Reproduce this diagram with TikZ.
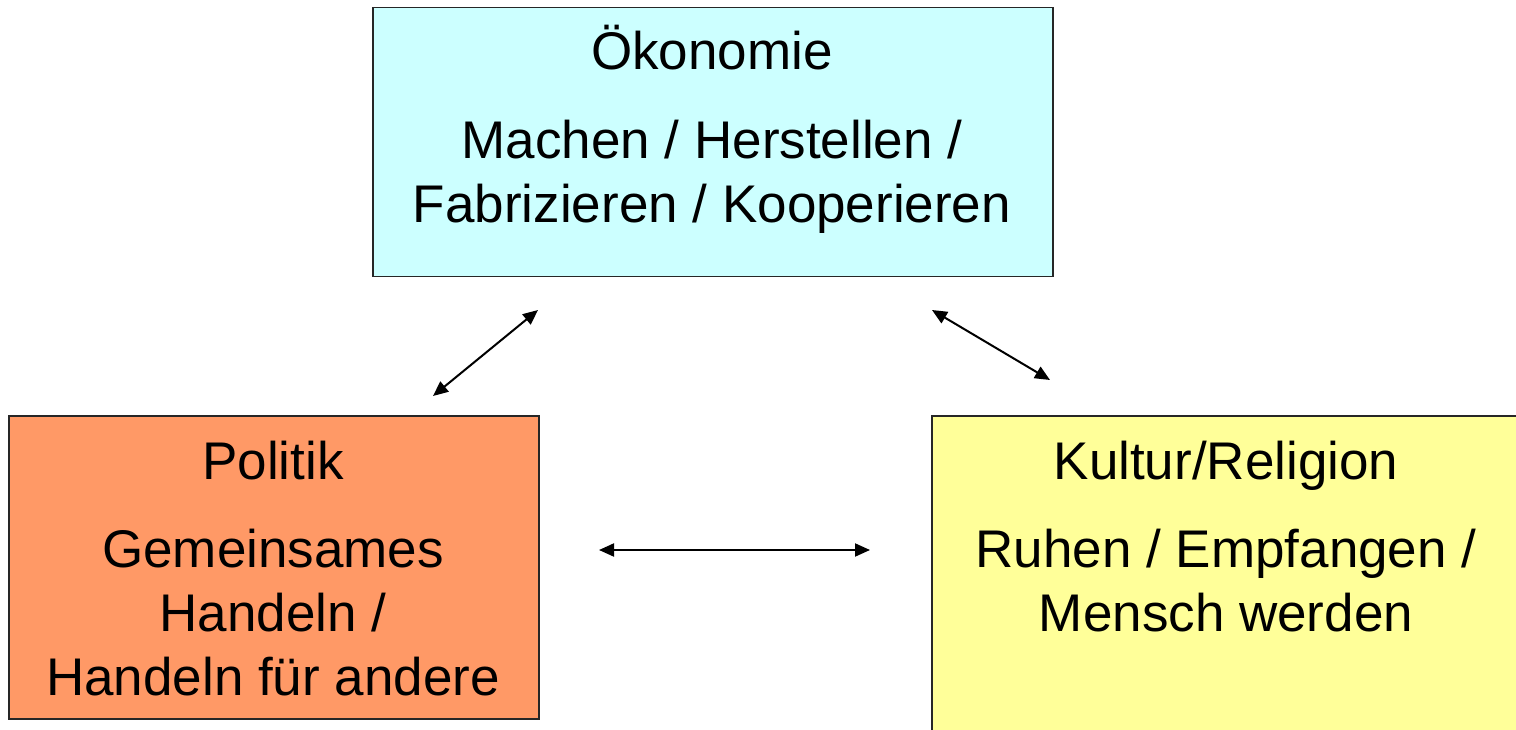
\documentclass[tikz,border=0pt]{standalone}
\usepackage{fontspec}
\setmainfont{Liberation Sans}
\usetikzlibrary{arrows.meta}
\definecolor{oekcol}{HTML}{CCFFFF}
\definecolor{polcol}{HTML}{FF9966}
\definecolor{kulcol}{HTML}{FFFF99}
\tikzset{
  box/.style={draw=black!85, line width=1.5pt, inner sep=0pt, anchor=north west},
  txt/.style={anchor=base, inner sep=0pt, font=\fontsize{53}{64}\selectfont},
  link/.style={line width=2pt, {Triangle[length=15pt,width=13pt]}-{Triangle[length=15pt,width=13pt]}, shorten >=0pt, shorten <=0pt}
}
\begin{document}
\begin{tikzpicture}[x=1pt,y=-1pt]
\clip (0,0) rectangle (1516,730);
\useasboundingbox (0,0) rectangle (1516,730);
% boxes
\node[box, fill=oekcol, minimum width=680pt, minimum height=269pt] (oek) at (372,7) {};
\node[box, fill=polcol, minimum width=530pt, minimum height=303pt] (pol) at (8,415) {};
\node[box, fill=kulcol, minimum width=590pt, minimum height=330pt] (kul) at (931,415) {};
% texts
\node[txt] (oekT) at (712,70) {Ökonomie};
\node[txt] (oekA) at (712,159) {Machen / Herstellen /};
\node[txt] (oekB) at (712,223) {Fabrizieren / Kooperieren};
\node[txt] (polT) at (273,479) {Politik};
\node[txt] (polA) at (273,567) {Gemeinsames};
\node[txt] (polB) at (273,631) {Handeln /};
\node[txt] (polC) at (273,695) {Handeln für andere};
\node[txt] (kulT) at (1226,479) {Kultur/Religion};
\node[txt] (kulA) at (1226,567) {Ruhen / Empfangen /};
\node[txt] (kulB) at (1226,631) {Mensch werden};
% arrow end points
\coordinate (a1s) at (433,396);
\coordinate (a1e) at (538,310);
\coordinate (a2s) at (932,310);
\coordinate (a2e) at (1050,380);
\coordinate (a3s) at (599,550);
\coordinate (a3e) at (870,550);
\draw[link] (a1s) -- (a1e);
\draw[link] (a2s) -- (a2e);
\draw[link] (a3s) -- (a3e);
\end{tikzpicture}
\end{document}
